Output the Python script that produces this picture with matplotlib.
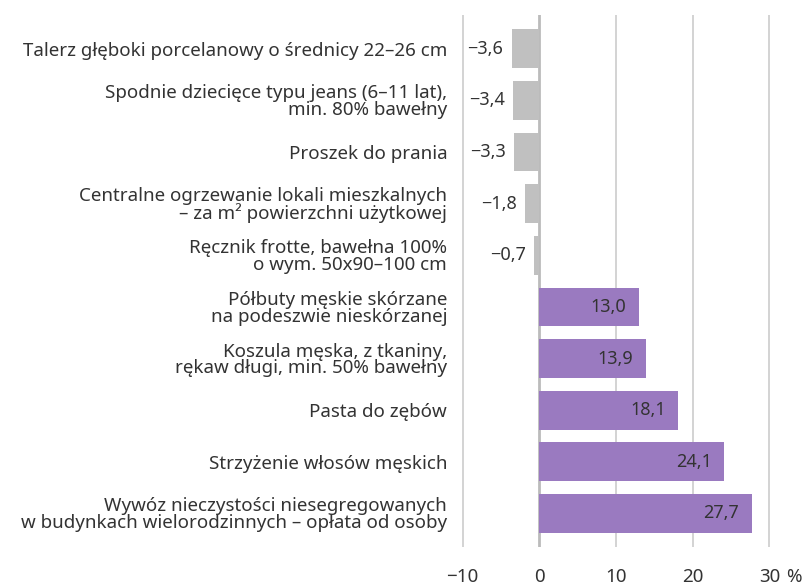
import matplotlib

matplotlib.use("Agg")
import matplotlib.pyplot as plt  # noqa: E402

categories = [
    "Talerz głęboki porcelanowy o średnicy 22–26 cm",
    "Spodnie dziecięce typu jeans (6–11 lat),\nmin. 80% bawełny",
    "Proszek do prania",
    "Centralne ogrzewanie lokali mieszkalnych\n– za m² powierzchni użytkowej",
    "Ręcznik frotte, bawełna 100%\no wym. 50x90–100 cm",
    "Półbuty męskie skórzane\nna podeszwie nieskórzanej",
    "Koszula męska, z tkaniny,\nrękaw długi, min. 50% bawełny",
    "Pasta do zębów",
    "Strzyżenie włosów męskich",
    "Wywóz nieczystości niesegregowanych\nw budynkach wielorodzinnych – opłata od osoby",
]
values = [-3.6, -3.4, -3.3, -1.8, -0.7, 13.0, 13.9, 18.1, 24.1, 27.7]
x_ticks = [-10, 0, 10, 20, 30]
x_tick_labels = ["−10", "0", "10", "20", "30"]

_NEG = "#c0c0c0"
_POS = "#9a7ac0"
_TEXT = "#333333"
_GRID = "#cccccc"

plt.rcParams["font.family"] = ["Noto Sans", "DejaVu Sans"]

fig = plt.figure(figsize=(8.05, 5.86), dpi=100)
ax = fig.add_axes([0.5727, 0.0666, 0.3851, 0.9074])

y = list(range(len(values)))
colors = [_NEG if v < 0 else _POS for v in values]
ax.barh(y, values, height=0.75, color=colors, zorder=2)

for yi, v in zip(y, values):
    txt = f"{v:.1f}".replace(".", ",").replace("-", "−")
    off = -6 if v < 0 else -9
    ax.annotate(txt, (v, yi), xytext=(off, 0), textcoords="offset points",
                ha="right", va="center", fontsize=13, color=_TEXT, zorder=3)

ax.set_xlim(-10.2, 30.2)
ax.set_ylim(len(values) - 0.35, -0.65)
ax.set_xticks(x_ticks)
ax.set_xticklabels(x_tick_labels, fontsize=13.5, color=_TEXT)
ax.tick_params(axis="x", length=0, pad=15)
ax.annotate("%", (30, 0), xycoords=("data", "axes fraction"), xytext=(12, -15),
            textcoords="offset points", ha="left", va="top", fontsize=13.5, color=_TEXT)

ax.set_yticks(y)
ax.set_yticklabels(categories, fontsize=13.5, color=_TEXT, linespacing=0.9)
ax.tick_params(axis="y", length=0, pad=10)

for xv in x_ticks:
    ax.axvline(xv, color="#bbbbbb" if xv == 0 else _GRID,
               lw=2.0 if xv == 0 else 1.2, zorder=1)

for s in ax.spines.values():
    s.set_visible(False)

fig.savefig("out.png", dpi=100)
plt.close(fig)
